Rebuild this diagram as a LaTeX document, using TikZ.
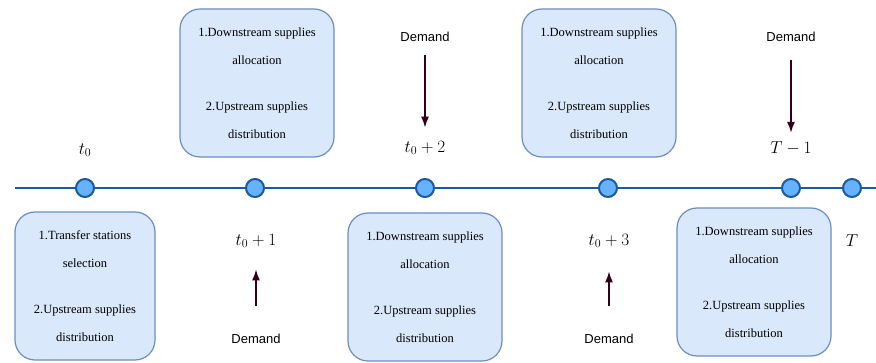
\documentclass[tikz,border=0pt]{standalone}
\usepackage{amsmath}
\usepackage{fontspec}
\setmainfont{Liberation Serif}
\setsansfont{Liberation Sans}
\usepackage{tikz}
\usetikzlibrary{arrows.meta}

\definecolor{boxfill}{HTML}{DAE8FC}
\definecolor{boxline}{HTML}{6C8EBF}
\definecolor{axisline}{HTML}{1A5A9C}
\definecolor{dotfill}{HTML}{66B2FF}
\definecolor{demandarrow}{HTML}{33001A}

\tikzset{
	taskbox/.style={draw=boxline, fill=boxfill, line width=1.2pt, rounded corners=20pt,
		minimum width=154pt, minimum height=148pt, align=center,
		font=\rmfamily\fontsize{12.5}{28}\selectfont},
	tick/.style={circle, draw=axisline, fill=dotfill, line width=2pt, minimum size=18pt, inner sep=0pt},
	timelabel/.style={font=\fontsize{16.5}{18}\selectfont},
	demandtext/.style={font=\sffamily\fontsize{13}{15}\selectfont},
	demandarrow/.style={-{Latex[length=11pt,width=8pt]}, draw=demandarrow, line width=1.5pt}
}

\begin{document}
\begin{tikzpicture}[x=1pt, y=-1pt]
		\useasboundingbox (0,0) rectangle (876,363);
		
		% Time axis
		\coordinate (start) at (15,188);
		\coordinate (end) at (876,188);
		\node[tick] (c0) at (85,188) {};
		\node[tick] (c1) at (255,188) {};
		\node[tick] (c2) at (425,188) {};
		\node[tick] (c3) at (608,188) {};
		\node[tick] (c4) at (791,188) {};
		\node[tick] (c5) at (852,188) {};
		\draw[axisline, line width=2pt] (start) -- (c0) -- (c1) -- (c2) -- (c3) -- (c4) -- (c5) -- (end);
		
		% Time labels
		\node[timelabel] (t0) at (85,150) {$t_0$};
		\node[timelabel] (t1) at (256,241) {$t_0+1$};
		\node[timelabel] (t2) at (425,148) {$t_0+2$};
		\node[timelabel] (t3) at (609,241) {$t_0+3$};
		\node[timelabel] (t4) at (791,148) {$T-1$};
		\node[timelabel] (t5) at (852,241) {$T$};
		
		% Decision boxes
		\node[taskbox, minimum width=140pt] (box0) at (85,286) {1.Transfer stations\\selection\\[18pt]2.Upstream supplies\\distribution};
		\node[taskbox] (box1) at (257,83) {1.Downstream supplies\\allocation\\[18pt]2.Upstream supplies\\distribution};
		\node[taskbox] (box2) at (425,287) {1.Downstream supplies\\allocation\\[18pt]2.Upstream supplies\\distribution};
		\node[taskbox] (box3) at (599,83) {1.Downstream supplies\\allocation\\[18pt]2.Upstream supplies\\distribution};
		\node[taskbox] (box4) at (754,282) {1.Downstream supplies\\allocation\\[18pt]2.Upstream supplies\\distribution};
		
		% Demand
		\node[demandtext] (d1) at (256,339) {Demand};
		\node[demandtext] (d2) at (425,37) {Demand};
		\node[demandtext] (d3) at (609,339) {Demand};
		\node[demandtext] (d4) at (791,37) {Demand};
		\draw[demandarrow, shorten <=25pt, shorten >=18pt] (d1) -- (t1);
		\draw[demandarrow, shorten <=10pt, shorten >=10pt] (d2) -- (t2);
		\draw[demandarrow, shorten <=25pt, shorten >=20pt] (d3) -- (t3);
		\draw[demandarrow, shorten <=15pt, shorten >=5pt] (d4) -- (t4);
	\end{tikzpicture}
\end{document}
